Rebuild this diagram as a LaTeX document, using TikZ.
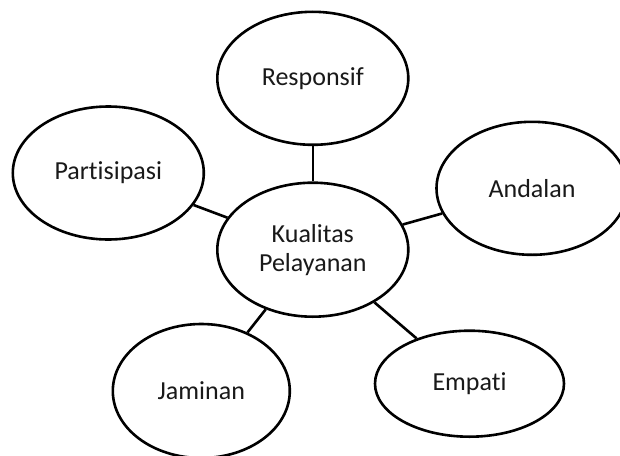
\documentclass[tikz,border=0pt]{standalone}
\usepackage{fontspec}
\setmainfont{Carlito}[Ligatures={NoCommon,NoContextual}]
\usetikzlibrary{shapes.geometric}
\begin{document}
\begin{tikzpicture}[x=1pt,y=-1pt,
  bub/.style={ellipse,draw=black,line width=2.6pt,fill=white,inner sep=0pt,
    align=center,font=\fontsize{26}{29}\selectfont,text=black!90},
  link/.style={draw=black,line width=2.6pt}]
\useasboundingbox (0,0) rectangle (620,455);
\fill[white] (0,0) rectangle (620,455);
\node[bub,minimum width=191pt,minimum height=134pt] (k) at (312.8,249.7) {Kualitas\\Pelayanan};
\node[bub,minimum width=191pt,minimum height=133pt] (r) at (312.8,78.3) {Responsif};
\node[bub,minimum width=191pt,minimum height=133pt] (p) at (108.3,173) {Partisipasi};
\node[bub,minimum width=191pt,minimum height=133pt] (a) at (532,188.3) {Andalan};
\node[bub,minimum width=177pt,minimum height=134pt] (j) at (201.3,391) {Jaminan};
\node[bub,minimum width=189pt,minimum height=106pt] (e) at (469.5,383.7) {Empati};
\draw[link] (r) -- (k);
\draw[link] (p) -- (k);
\draw[link] (a) -- (k);
\draw[link] (j) -- (k);
\draw[link] (e) -- (k);
\end{tikzpicture}
\end{document}
